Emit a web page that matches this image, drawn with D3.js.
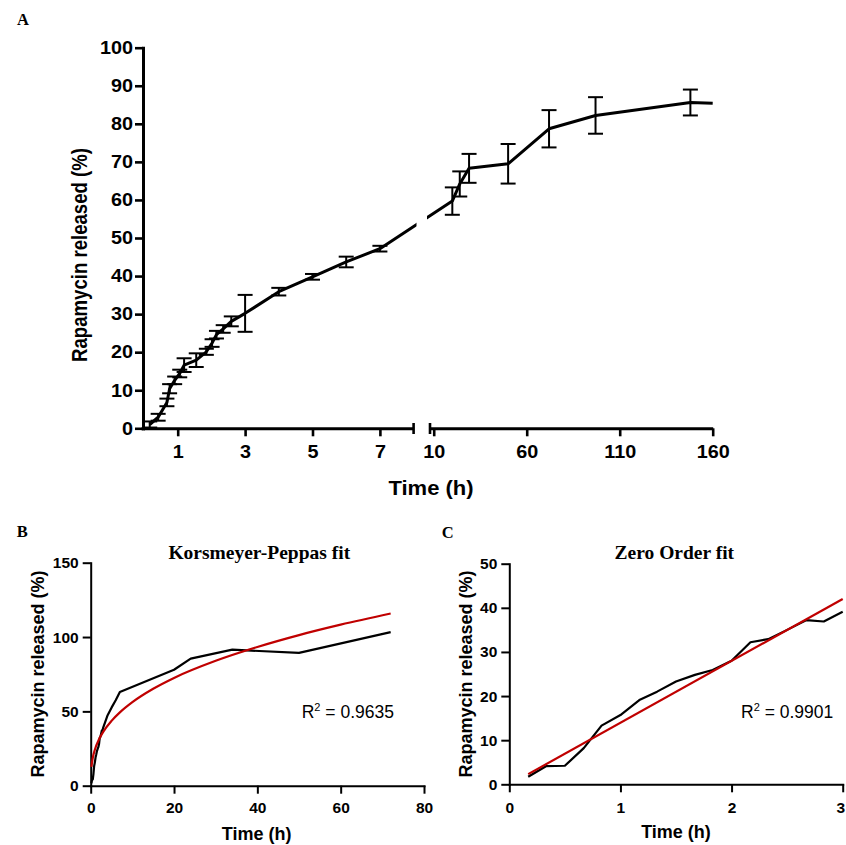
<!DOCTYPE html>
<html>
<head>
<meta charset="utf-8">
<script src="https://cdn.jsdelivr.net/npm/d3@7"></script>
<style>
  body { margin: 0; background: #fff; }
  svg { display: block; }
</style>
</head>
<body>
<svg id="fig" width="846" height="845"></svg>
<script>
// ---------- Panel A: cumulative rapamycin release, mean ± SD ----------
const timesA = [0.17, 0.42, 0.68, 0.76, 0.91, 1.06, 1.19, 1.55, 1.85, 2.02, 2.15, 2.35, 2.59, 3,
                4, 5, 6, 7, 20, 24, 29, 50, 72, 97, 148, 160];
const meanA  = [1.0, 2.9, 6.8, 10.4, 12.6, 14.4, 16.6, 17.9, 20.1, 22.4, 24.6, 26.1, 28.1, 30.2,
                35.9, 39.8, 43.7, 47.2, 59.7, 64.2, 68.3, 69.5, 78.7, 82.2, 85.6, 85.4];
const sdA    = [0.8, 0.9, 1.0, 1.2, 1.0, 1.0, 1.8, 1.8, 0.8, 1.0, 1.0, 1.0, 1.3, 4.85,
                1.0, 0.75, 1.4, 0.75, 3.6, 3.3, 3.8, 5.2, 4.9, 4.8, 3.4, 0];
const yTicksA = [0, 10, 20, 30, 40, 50, 60, 70, 80, 90, 100];
const xTicksALeft = [1, 3, 5, 7];
const xTicksARight = [10, 60, 110, 160];

// ---------- Panels B and C: release profile and model fits ----------
const timesBC   = [0.17, 0.33, 0.5, 0.67, 0.83, 1, 1.17, 1.33, 1.5, 1.67, 1.83, 2, 2.17, 2.33, 2.5, 2.67, 2.83, 3,
                   4, 5, 6, 7, 20, 24, 34, 50, 72];
const releaseBC = [1.7, 4.1, 4.2, 8.2, 13.3, 15.7, 19.1, 21.0, 23.3, 24.8, 25.9, 28.0, 32.2, 32.9, 35.0, 37.2, 36.9, 39.1,
                   47.0, 52.5, 57.5, 63.0, 78.0, 85.5, 91.5, 89.3, 103.3];
const kpTimes = [0.17, 0.5, 1, 2, 3, 5, 7, 10, 15, 20, 30, 40, 50, 60, 72];
const kpFit   = [12.7, 18.8, 24.2, 31.2, 36.2, 43.6, 49.3, 56.2, 65.2, 72.5, 84.0, 93.3, 101.3, 108.3, 115.8];
const zoTimes = [0.17, 3];
const zoFit   = [2.3, 42.0];
const yTicksB = [0, 50, 100, 150];
const xTicksB = [0, 20, 40, 60, 80];
const yTicksC = [0, 10, 20, 30, 40, 50];
const xTicksC = [0, 1, 2, 3];
const r2B = "0.9635";
const r2C = "0.9901";

const SANS = "'Liberation Sans', Arial, Helvetica, sans-serif";
const SERIF = "'Liberation Serif', 'Times New Roman', Times, serif";
const RED = "#c00000";
const fmtInt = d3.format("d");

const svg = d3.select("#fig");

function styleAxis(g, width, fontSize) {
  g.select(".domain").attr("stroke", "#000").attr("stroke-width", width).attr("stroke-linecap", "square");
  g.selectAll(".tick line").attr("stroke", "#000").attr("stroke-width", width);
  g.selectAll(".tick text").attr("fill", "#000")
    .style("font-family", SANS).style("font-weight", "bold").style("font-size", fontSize + "px");
}

// ================= Panel A =================
const yA = d3.scaleLinear().domain([0, 100]).range([428.3, 47.7]);
const xAL = d3.scaleLinear().domain([0, 8]).range([144, 413.6]);
const xAR = d3.scaleLinear().domain([8, 160]).range([430, 712.7]);
const xA = t => (t <= 8 ? xAL(t) : xAR(t));

const gA = svg.append("g");

// y axis
const yAxA = gA.append("g").attr("transform", "translate(143,0)")
  .call(d3.axisLeft(yA).tickValues(yTicksA).tickFormat(fmtInt).tickSize(8).tickSizeOuter(0).tickPadding(3));
styleAxis(yAxA, 3, 18);
yAxA.selectAll(".tick line").attr("stroke-width", 2.6);
yAxA.selectAll(".tick text").attr("x", -10 / 1.1).attr("transform", "scale(1.1,1)");

// broken x axis: two segments
[[xAL, xTicksALeft], [xAR, xTicksARight]].forEach(([sc, ticks]) => {
  const ax = gA.append("g").attr("transform", "translate(0,428.3)")
    .call(d3.axisBottom(sc).tickValues(ticks).tickFormat(fmtInt).tickSize(8).tickSizeOuter(0));
  styleAxis(ax, 3, 18);
  ax.select(".domain").attr("stroke-linecap", "butt");
  ax.selectAll(".tick line").attr("stroke-width", 2.6);
  ax.selectAll(".tick text").attr("y", 29.7).attr("dy", null).attr("transform", "scale(1.1,1)");
});
// extend left segment under the y axis
gA.append("line").attr("x1", 141.5).attr("x2", 145).attr("y1", 428.8).attr("y2", 428.8)
  .attr("stroke", "#000").attr("stroke-width", 3);
// break caps at the ends of the two segments
[xAL(8), xAR(8)].forEach(x => {
  gA.append("line").attr("x1", x).attr("x2", x).attr("y1", 423).attr("y2", 434)
    .attr("stroke", "#000").attr("stroke-width", 2.6);
});

// clip the data line at the axis break
const clip = svg.append("defs").append("clipPath").attr("id", "breakClip");
clip.append("rect").attr("x", 0).attr("y", 0).attr("width", 416.5).attr("height", 500);
clip.append("rect").attr("x", 427).attr("y", 0).attr("width", 400).attr("height", 500);

const dataA = timesA.map((t, i) => ({ t, v: meanA[i], e: sdA[i] }));

// error bars
const eb = gA.append("g").attr("stroke", "#000").attr("stroke-width", 2).attr("fill", "none");
dataA.filter(d => d.e > 0).forEach(d => {
  const x = xA(d.t), y1 = yA(d.v + d.e), y2 = yA(d.v - d.e);
  eb.append("line").attr("x1", x).attr("x2", x).attr("y1", y1).attr("y2", y2);
  eb.append("line").attr("x1", x - 7.5).attr("x2", x + 7.5).attr("y1", y1).attr("y2", y1);
  eb.append("line").attr("x1", x - 7.5).attr("x2", x + 7.5).attr("y1", y2).attr("y2", y2);
});

// mean line
gA.append("path").datum(dataA)
  .attr("clip-path", "url(#breakClip)")
  .attr("fill", "none").attr("stroke", "#000").attr("stroke-width", 3)
  .attr("stroke-linejoin", "round")
  .attr("d", d3.line().x(d => xA(d.t)).y(d => yA(d.v)));

// axis titles A
gA.append("text").text("Time (h)")
  .attr("transform", "translate(431,495) scale(1.1,1)")
  .attr("text-anchor", "middle")
  .style("font-family", SANS).style("font-weight", "bold").style("font-size", "20px");
gA.append("text").text("Rapamycin released (%)")
  .attr("transform", "translate(87.3,255) rotate(-90) scale(0.93,1.1)")
  .attr("text-anchor", "middle")
  .style("font-family", SANS).style("font-weight", "bold").style("font-size", "20px");

// ================= Panels B and C =================
function fitPanel(opt) {
  const g = svg.append("g");
  const x = d3.scaleLinear().domain(opt.xDomain).range(opt.xRange);
  const y = d3.scaleLinear().domain(opt.yDomain).range(opt.yRange);

  const yAx = g.append("g").attr("transform", `translate(${opt.xRange[0]},0)`)
    .call(d3.axisLeft(y).tickValues(opt.yTicks).tickFormat(fmtInt).tickSize(8).tickSizeOuter(0).tickPadding(4));
  styleAxis(yAx, 2, 15.5);
  const xAx = g.append("g").attr("transform", `translate(0,${opt.yRange[0]})`)
    .call(d3.axisBottom(x).tickValues(opt.xTicks).tickFormat(fmtInt).tickSize(8).tickSizeOuter(0));
  styleAxis(xAx, 2, 15.5);
  xAx.selectAll(".tick text").attr("y", opt.xLabelOffset).attr("dy", null)
    .attr("x", (d, i, n) => (i === n.length - 1 ? -opt.lastLabelShift : 0));

  const line = d3.line().x(d => x(d[0])).y(d => y(d[1]));
  g.append("path").datum(opt.data)
    .attr("fill", "none").attr("stroke", "#000").attr("stroke-width", 2.2)
    .attr("stroke-linejoin", "round").attr("d", line);
  g.append("path").datum(opt.fit)
    .attr("fill", "none").attr("stroke", RED).attr("stroke-width", 2.2)
    .attr("d", line.curve(d3.curveMonotoneX));

  g.append("text").text(opt.title)
    .attr("x", opt.titlePos[0]).attr("y", opt.titlePos[1]).attr("text-anchor", "middle")
    .style("font-family", SERIF).style("font-weight", "bold").style("font-size", "19.5px");

  const r2 = g.append("text").attr("x", opt.r2Pos[0]).attr("y", opt.r2Pos[1])
    .style("font-family", SANS).style("font-size", "17.5px");
  r2.append("tspan").text("R");
  r2.append("tspan").text("2").attr("dy", -7).style("font-size", "11px");
  r2.append("tspan").text(" = " + opt.r2).attr("dy", 7);

  g.append("text").text("Time (h)")
    .attr("x", opt.xTitlePos[0]).attr("y", opt.xTitlePos[1]).attr("text-anchor", "middle")
    .style("font-family", SANS).style("font-weight", "bold").style("font-size", "18px");
  g.append("text").text("Rapamycin released (%)")
    .attr("transform", `translate(${opt.yTitlePos[0]},${opt.yTitlePos[1]}) rotate(-90)`)
    .attr("text-anchor", "middle")
    .style("font-family", SANS).style("font-weight", "bold").style("font-size", "18px");
}

fitPanel({
  xDomain: [0, 80], xRange: [90.7, 424],
  yDomain: [0, 150], yRange: [785.7, 562.7],
  xTicks: xTicksB, yTicks: yTicksB, xLabelOffset: 27, lastLabelShift: 0,
  data: timesBC.map((t, i) => [t, releaseBC[i]]),
  fit: kpTimes.map((t, i) => [t, kpFit[i]]),
  title: "Korsmeyer-Peppas fit", titlePos: [259.3, 559],
  r2: r2B, r2Pos: [301.7, 717.7],
  xTitlePos: [256.7, 840], yTitlePos: [43.5, 674]
});

fitPanel({
  xDomain: [0, 3], xRange: [509.3, 842.7],
  yDomain: [0, 50], yRange: [784.3, 563.7],
  xTicks: xTicksC, yTicks: yTicksC, xLabelOffset: 28.4, lastLabelShift: 2.5,
  data: timesBC.filter(t => t <= 3).map((t, i) => [t, releaseBC[i]]),
  fit: zoTimes.map((t, i) => [t, zoFit[i]]),
  title: "Zero Order fit", titlePos: [674.3, 558.5],
  r2: r2C, r2Pos: [741, 717.7],
  xTitlePos: [676, 838.3], yTitlePos: [471.7, 674]
});

// ---------- panel letters ----------
[["A", 17, 25], ["B", 16.7, 536.7], ["C", 441.7, 537.7]].forEach(([s, x, y]) => {
  svg.append("text").text(s).attr("x", x).attr("y", y)
    .style("font-family", SERIF).style("font-weight", "bold").style("font-size", "16.5px");
});
</script>
</body>
</html>
